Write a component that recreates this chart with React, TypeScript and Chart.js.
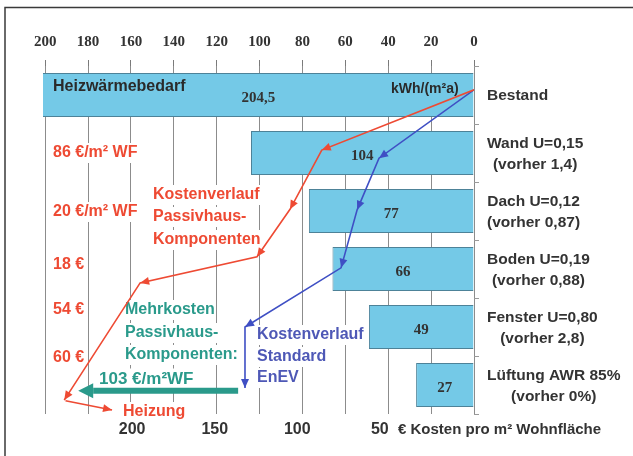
import React, { useEffect, useRef } from 'react';
import { Chart, registerables } from 'chart.js';

Chart.register(...registerables);

// ---- data ----
const categories: string[][] = [
  ['Bestand'],
  ['Wand U=0,15', '(vorher 1,4)'],
  ['Dach U=0,12', '(vorher 0,87)'],
  ['Boden U=0,19', '(vorher 0,88)'],
  ['Fenster U=0,80', '(vorher 2,8)'],
  ['Lüftung AWR 85%', '(vorher 0%)'],
];
const heatDemand = [204.5, 104, 77, 66, 49, 27];
const kwhTicks = [0, 20, 40, 60, 80, 100, 120, 140, 160, 180, 200];
const costTicks = [200, 150, 100, 50];

// cost paths (x in kWh-axis units, y in row units)
const passivX = [0, 71, 85.8, 101.2, 155.7, 191.1];
const passivY = [-0.09, 0.95, 1.97, 2.79, 3.24, 5.26];
const heizungX = [190.5, 168.8];
const heizungY = [5.27, 5.43];
const enevX = [0, 44.3, 54.5, 62, 106.8, 106.8];
const enevY = [-0.09, 1.09, 1.98, 2.98, 4.0, 5.05];
const mehrX = [110, 177.6];
const mehrY = [5.1, 5.1];

const costLabels = ['86 €/m² WF', '20 €/m² WF', '18 €', '54 €', '60 €'];
const passivText = ['Kostenverlauf', 'Passivhaus-', 'Komponenten'];
const mehrText = ['Mehrkosten', 'Passivhaus-', 'Komponenten:'];
const mehrValue = '103 €/m²WF';
const enevText = ['Kostenverlauf', 'Standard', 'EnEV'];

const RED = '#EE4A33';
const BLUE = '#3F4FC4';
const BLUE_TXT = '#4E58B6';
const TEAL = '#2A9A8B';
const DARK = '#333333';
const SANS = '"Liberation Sans", Arial, sans-serif';
const SERIF = '"Liberation Serif", "Times New Roman", serif';

const zip = (xs: number[], ys: number[]) => xs.map((x, i) => ({ x, y: ys[i] }));

function txt(ctx: CanvasRenderingContext2D, s: string, x: number, y: number, font: string, color: string, align: CanvasTextAlign = 'left', bg = false) {
  ctx.font = font;
  ctx.textAlign = align;
  ctx.textBaseline = 'middle';
  if (bg) {
    const w = ctx.measureText(s).width;
    const m = /(\d+(?:\.\d+)?)px/.exec(font);
    const fs = m ? parseFloat(m[1]) : 14;
    const x0 = align === 'center' ? x - w / 2 : align === 'right' ? x - w : x;
    ctx.fillStyle = '#ffffff';
    ctx.fillRect(x0 - 1, y - fs / 2 - 2, w + 2, fs + 4);
  }
  ctx.fillStyle = color;
  ctx.fillText(s, x, y);
}

const arrowPlugin = {
  id: 'arrows',
  afterDatasetsDraw(chart: any) {
    const ctx = chart.ctx as CanvasRenderingContext2D;
    chart.data.datasets.forEach((ds: any, di: number) => {
      if (!ds.arrow) return;
      const pts = chart.getDatasetMeta(di).data;
      ctx.save();
      ctx.fillStyle = ds.borderColor;
      for (let i = 1; i < pts.length; i++) {
        if (ds.arrow === 'end' && i !== pts.length - 1) continue;
        const a = pts[i - 1], b = pts[i];
        const ang = Math.atan2(b.y - a.y, b.x - a.x);
        const L = ds.arrowLen, W = ds.arrowWidth;
        const c = Math.cos(ang), s = Math.sin(ang);
        const tx = b.x + (ds.arrowExtend ? L * c : 0);
        const ty = b.y + (ds.arrowExtend ? L * s : 0);
        ctx.beginPath();
        ctx.moveTo(tx, ty);
        ctx.lineTo(tx - L * c + W * s, ty - L * s - W * c);
        ctx.lineTo(tx - L * c - W * s, ty - L * s + W * c);
        ctx.closePath();
        ctx.fill();
      }
      ctx.restore();
    });
  },
};

const textPlugin = {
  id: 'texts',
  beforeDatasetsDraw(chart: any) {
    const ctx = chart.ctx as CanvasRenderingContext2D;
    ctx.save();
    const f16 = `bold 16px ${SANS}`;
    const costY = [153, 212, 265, 310, 358];
    costLabels.forEach((s, i) => txt(ctx, s, 53, costY[i], f16, RED, 'left', true));
    [195, 217, 240].forEach((y, i) => txt(ctx, passivText[i], 153, y, f16, RED, 'left', true));
    txt(ctx, 'Heizung', 123, 412, f16, RED, 'left', true);
    [310, 333, 355].forEach((y, i) => txt(ctx, mehrText[i], 125, y, f16, TEAL, 'left', true));
    txt(ctx, mehrValue, 99, 379, `bold 17px ${SANS}`, TEAL, 'left', true);
    [335, 357, 378].forEach((y, i) => txt(ctx, enevText[i], 257, y, f16, BLUE_TXT, 'left', true));
    ctx.restore();
  },
  afterDatasetDraw(chart: any, args: any) {
    if (args.index !== 0) return;
    const ctx = chart.ctx as CanvasRenderingContext2D;
    ctx.save();
    const meta = chart.getDatasetMeta(0);
    const area = chart.chartArea;
    meta.data.forEach((bar: any, i: number) => {
      const left = Math.max(bar.x, area.left);
      const cx = (left + bar.base) / 2;
      const s = String(heatDemand[i]).replace('.', ',');
      txt(ctx, s, cx, bar.y + 3, `bold 15px ${SERIF}`, DARK, 'center');
    });
    txt(ctx, 'Heizwärmebedarf', 53, 87, `bold 16px ${SANS}`, '#2a2a2a');
    txt(ctx, 'kWh/(m²a)', 391, 89, `bold 14px ${SANS}`, '#2a2a2a');
    ctx.restore();
  },
  afterDraw(chart: any) {
    const ctx = chart.ctx as CanvasRenderingContext2D;
    ctx.save();
    const yScale = chart.scales.y;
    const lh = 20.5;
    categories.forEach((lines, i) => {
      const cy = yScale.getPixelForValue(i);
      ctx.font = `bold 15.5px ${SANS}`;
      const w = Math.max(...lines.map((l) => ctx.measureText(l).width));
      const cx = 487 + w / 2;
      lines.forEach((l, j) => {
        const y = cy - ((lines.length - 1) * lh) / 2 + j * lh + 1;
        txt(ctx, l, cx, y, `bold 15.5px ${SANS}`, DARK, 'center');
      });
    });
    txt(ctx, '€ Kosten pro m² Wohnfläche', 398, 430, `bold 15px ${SANS}`, DARK);
    // frame
    ctx.strokeStyle = '#3a3a3a';
    ctx.lineWidth = 1.5;
    ctx.beginPath();
    ctx.moveTo(5, 460);
    ctx.lineTo(5, 7.5);
    ctx.lineTo(640, 7.5);
    ctx.stroke();
    ctx.restore();
  },
};

const noPad = (s: any) => {
  s.paddingLeft = 0;
  s.paddingRight = 0;
  s.paddingTop = 0;
  s.paddingBottom = 0;
};

export default function App() {
  const ref = useRef<HTMLCanvasElement>(null);
  useEffect(() => {
    if (!ref.current) return;
    const lineDs = (label: string, data: any[], color: string, extra: any = {}) => ({
      type: 'scatter',
      label,
      data,
      xAxisID: 'x',
      yAxisID: 'yl',
      showLine: true,
      borderColor: color,
      backgroundColor: color,
      borderWidth: 1.6,
      pointRadius: 0,
      tension: 0,
      fill: false,
      order: 1,
      arrow: 'all',
      arrowLen: 9,
      arrowWidth: 4,
      ...extra,
    });
    const chart = new Chart(ref.current, {
      type: 'bar',
      data: {
        labels: categories as any,
        datasets: [
          {
            type: 'bar',
            label: 'Heizwärmebedarf',
            data: heatDemand,
            indexAxis: 'y',
            xAxisID: 'x',
            yAxisID: 'y',
            backgroundColor: '#74C9E7',
            borderColor: '#4d8298',
            borderWidth: 1,
            barPercentage: 0.76,
            categoryPercentage: 1,
            order: 2,
          } as any,
          lineDs('Passivhaus', zip(passivX, passivY), RED),
          lineDs('Heizung', zip(heizungX, heizungY), RED, { arrow: 'end' }),
          lineDs('EnEV', zip(enevX, enevY), BLUE),
          lineDs('Mehrkosten', zip(mehrX, mehrY), TEAL, { borderWidth: 6, arrow: 'end', arrowLen: 15, arrowWidth: 7.5, arrowExtend: true }),
        ] as any,
      },
      options: {
        responsive: false,
        animation: false,
        layout: { padding: { left: 43, top: 0, right: 0, bottom: 0 } },
        plugins: { legend: { display: false }, tooltip: { enabled: false } },
        scales: {
          x: {
            type: 'linear',
            position: 'top',
            reverse: true,
            offset: false,
            min: 0,
            max: 201,
            afterBuildTicks: (s: any) => {
              s.ticks = kwhTicks.map((v) => ({ value: v }));
            },
            afterFit: (s: any) => {
              s.height = 66;
              noPad(s);
            },
            ticks: {
              autoSkip: false,
              maxRotation: 0,
              padding: 9,
              color: DARK,
              font: { family: SERIF, size: 15, weight: 'bold' },
              callback: (v: any) => String(v),
            },
            grid: { offset: false, color: '#8c8c8c', tickColor: '#7a7a7a', tickLength: 6, lineWidth: 1 },
            border: { display: false },
          },
          x2: {
            type: 'linear',
            position: 'bottom',
            reverse: true,
            offset: false,
            min: -7,
            max: 254,
            afterBuildTicks: (s: any) => {
              s.ticks = costTicks.map((v) => ({ value: v }));
            },
            afterFit: (s: any) => {
              s.height = 42;
              noPad(s);
            },
            ticks: {
              autoSkip: false,
              maxRotation: 0,
              padding: 6,
              color: DARK,
              font: { family: SANS, size: 16, weight: 'bold' },
              callback: (v: any) => String(v),
            },
            grid: { display: false, drawTicks: false, offset: false },
            border: { display: false },
          },
          y: {
            type: 'category',
            position: 'right',
            offset: true,
            afterFit: (s: any) => {
              s.width = 159;
              noPad(s);
            },
            ticks: { display: false },
            grid: { offset: true, drawOnChartArea: false, tickLength: 5, color: '#9a9a9a' },
            border: { display: false },
          },
          yl: {
            type: 'linear',
            display: false,
            reverse: true,
            offset: false,
            min: -0.5,
            max: 5.5,
          },
        } as any,
      },
      plugins: [textPlugin, arrowPlugin],
    } as any);
    return () => chart.destroy();
  }, []);
  return (
    <div style={{ position: 'fixed', left: 0, top: 0, width: 633, height: 456, background: '#fff' }}>
      <canvas ref={ref} width={633} height={456} style={{ display: 'block' }} />
    </div>
  );
}
